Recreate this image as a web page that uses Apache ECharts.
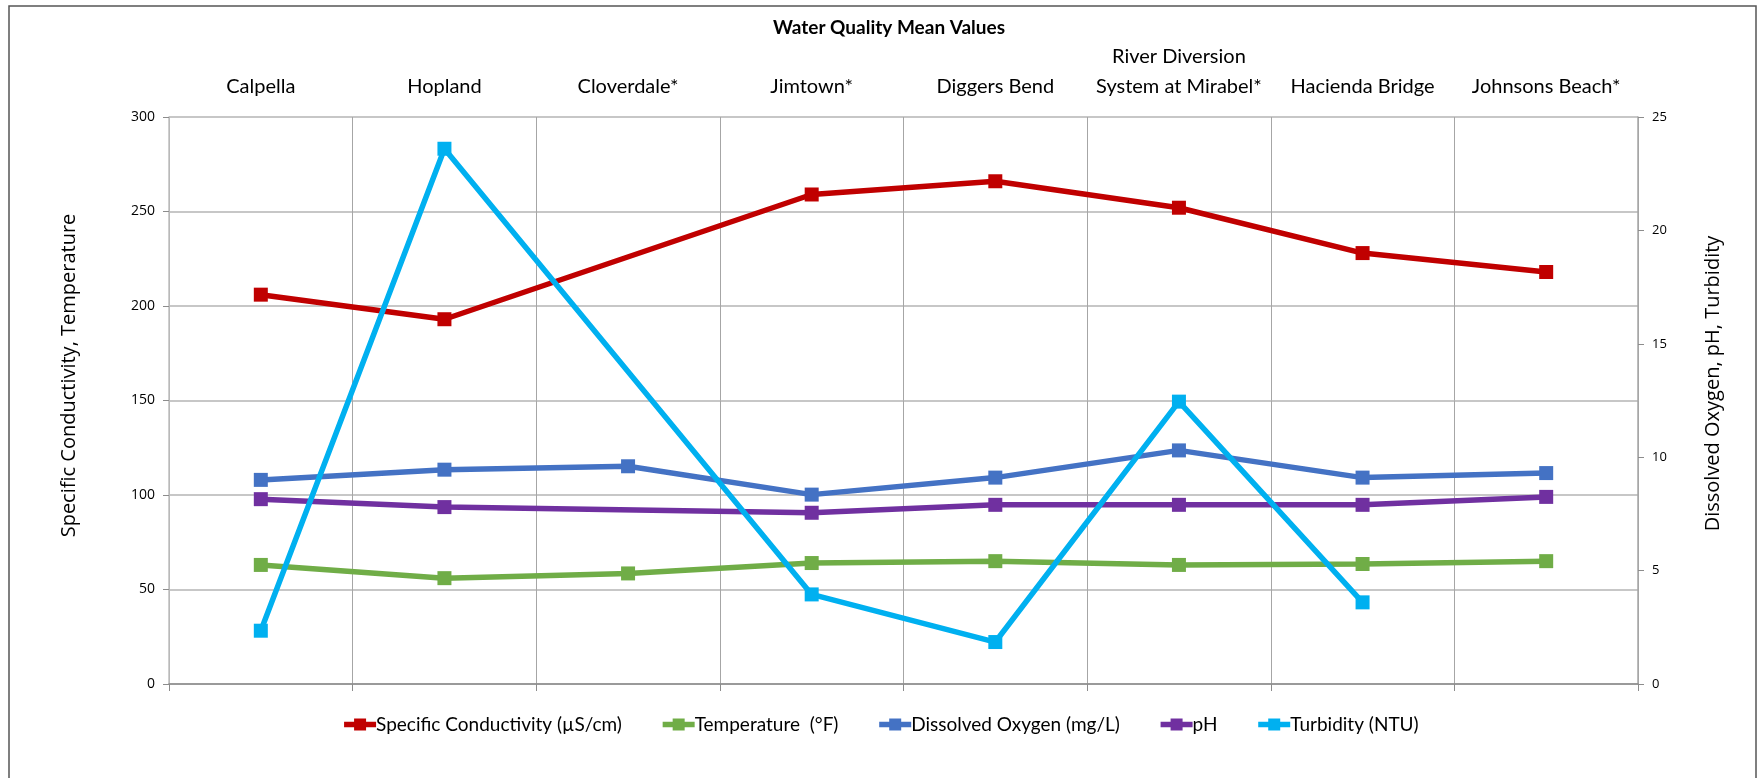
<!DOCTYPE html>
<html>
<head>
<meta charset="utf-8">
<script src="https://cdn.jsdelivr.net/npm/echarts@6/dist/echarts.min.js"></script>
<style>
html,body{margin:0;padding:0;background:#fff;}
#chart{width:1760px;height:778px;}
</style>
</head>
<body>
<div id="chart"></div>
<script>
const categories = ['Calpella', 'Hopland', 'Cloverdale*', 'Jimtown*', 'Diggers Bend', 'River Diversion\nSystem at Mirabel*', 'Hacienda Bridge', 'Johnsons Beach*'];
const conductivity = [206, 193, null, 259, 266, 252, 228, 218];
const temperature = [63, 56, 58.5, 64, 65, 63, 63.5, 65];
const dissolvedOxygen = [9.0, 9.45, 9.6, 8.35, 9.1, 10.3, 9.1, 9.3];
const ph = [8.15, 7.8, null, 7.55, 7.9, 7.9, 7.9, 8.25];
const turbidity = [2.35, 23.6, null, 3.95, 1.85, 12.45, 3.6, null];
const leftTicks = { min: 0, max: 300, interval: 50 };
const rightTicks = { min: 0, max: 25, interval: 5 };

const chart = echarts.init(document.getElementById('chart'));
function mk(name, data, color, yIdx, z) {
  return {
    name: name, type: 'line', data: data, yAxisIndex: yIdx, xAxisIndex: 0,
    connectNulls: true, symbol: 'rect', symbolSize: 14, z: z,
    lineStyle: { color: color, width: 5.5 },
    itemStyle: { color: color },
    emphasis: { disabled: true },
    animation: false
  };
}
chart.setOption({
  animation: false,
  textStyle: { fontFamily: 'Lato' },
  title: {
    text: 'Water Quality Mean Values', left: 884, textAlign: 'center', top: 13,
    textStyle: { fontFamily: 'Lato', fontWeight: 'bold', fontSize: 19, color: '#000' }
  },
  grid: { left: 169, right: 122, top: 117, bottom: 94 },
  legend: {
    bottom: 39, left: 'center', itemWidth: 32, itemHeight: 15, itemGap: 38,
    lineStyle: { width: 5.5 },
    textStyle: { fontFamily: 'Lato', fontSize: 19, color: '#000', padding: [0, 0, 0, -5] },
    data: ['Specific Conductivity (µS/cm)', 'Temperature  (°F)', 'Dissolved Oxygen (mg/L)', 'pH', 'Turbidity (NTU)']
  },
  graphic: [{
    type: 'rect', shape: { x: 9, y: 6, width: 1747, height: 790 },
    style: { fill: 'none', stroke: '#555', lineWidth: 1.5 }, silent: true
  }],
  xAxis: [{
    type: 'category', data: categories, position: 'bottom', boundaryGap: true,
    axisLine: { show: true, lineStyle: { color: '#8c8c8c', width: 1.5 } },
    axisTick: { show: true, length: 7, lineStyle: { color: '#8c8c8c' } },
    axisLabel: { show: false },
    splitLine: { show: true, interval: 0, lineStyle: { color: '#a6a6a6', width: 1 } }
  }, {
    type: 'category', data: categories, position: 'top', boundaryGap: true,
    axisLine: { show: false }, axisTick: { show: false },
    axisLabel: { show: true, interval: 0, margin: 15, fontFamily: 'Lato', fontSize: 20, color: '#000', lineHeight: 30 },
    splitLine: { show: false }
  }],
  yAxis: [{
    type: 'value', position: 'left', min: leftTicks.min, max: leftTicks.max, interval: leftTicks.interval,
    name: 'Specific Conductivity, Temperature', nameLocation: 'middle', nameGap: 90,
    nameTextStyle: { fontFamily: 'Open Sans', fontSize: 20, color: '#000', padding: [0, 0, 0, 50] },
    axisLine: { show: true, lineStyle: { color: '#bfbfbf', width: 1.5 } },
    axisTick: { show: true, length: 6, lineStyle: { color: '#8c8c8c' } },
    axisLabel: { margin: 14, fontFamily: 'Open Sans', fontSize: 14, color: '#000' },
    splitLine: { show: true, lineStyle: { color: '#b5b5b5', width: 1.5 } }
  }, {
    type: 'value', position: 'right', min: rightTicks.min, max: rightTicks.max, interval: rightTicks.interval,
    name: 'Dissolved Oxygen, pH, Turbidity', nameLocation: 'middle', nameGap: 65,
    nameTextStyle: { fontFamily: 'Open Sans', fontSize: 20, color: '#000', padding: [0, 0, 0, 34] },
    axisLine: { show: true, lineStyle: { color: '#a6a6a6', width: 1.5 } },
    axisTick: { show: true, length: 6, lineStyle: { color: '#8c8c8c' } },
    axisLabel: { margin: 14, fontFamily: 'Open Sans', fontSize: 13, color: '#000' },
    splitLine: { show: false }
  }],
  series: [
    mk('Specific Conductivity (µS/cm)', conductivity, '#C00000', 0, 2),
    mk('Temperature  (°F)', temperature, '#70AD47', 0, 3),
    mk('Dissolved Oxygen (mg/L)', dissolvedOxygen, '#4472C4', 1, 4),
    mk('pH', ph, '#7030A0', 1, 5),
    mk('Turbidity (NTU)', turbidity, '#00B0F0', 1, 6)
  ]
});
</script>
</body>
</html>
